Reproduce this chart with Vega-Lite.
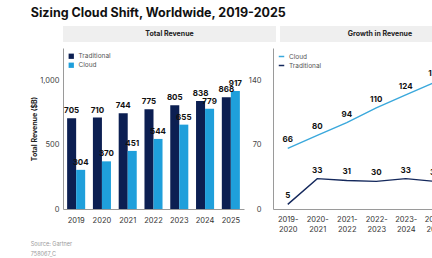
{
  "$schema": "https://vega.github.io/schema/vega-lite/v6.json",
  "padding": {"left": 30, "top": 6, "right": 0, "bottom": 0},
  "title": {
    "text": "Sizing Cloud Shift, Worldwide, 2019-2025",
    "anchor": "start",
    "fontSize": 12.5,
    "fontWeight": "bold",
    "color": "#111111",
    "offset": 7
  },
  "config": {
    "font": "Inter",
    "view": {"stroke": null},
    "axis": {
      "grid": false,
      "domainColor": "#9a9a9a",
      "ticks": false,
      "labelColor": "#444444",
      "labelFontSize": 7.5
    },
    "concat": {"spacing": 4}
  },
  "spacing": 6,
  "vconcat": [
    {
      "spacing": 4,
      "hconcat": [
        {
          "width": 213,
          "height": 16,
          "view": {"fill": "#efefef", "stroke": null},
          "data": {"values": [{"h": "Total Revenue"}]},
          "mark": {"type": "text", "fontWeight": "bold", "fontSize": 7, "color": "#222222"},
          "encoding": {"text": {"field": "h"}}
        },
        {
          "width": 200,
          "height": 16,
          "view": {"fill": "#efefef", "stroke": null},
          "data": {"values": [{"h": "Growth in Revenue"}]},
          "mark": {"type": "text", "fontWeight": "bold", "fontSize": 7, "color": "#222222"},
          "encoding": {"text": {"field": "h"}}
        }
      ]
    },
    {
      "title": {
        "text": ["Source: Gartner", "758067_C"],
        "orient": "bottom",
        "anchor": "start",
        "fontSize": 5.5,
        "fontWeight": "normal",
        "color": "#9a9a9a",
        "lineHeight": 10,
        "offset": 9
      },
      "spacing": 4,
      "resolve": {"scale": {"color": "independent", "x": "independent", "y": "independent"}, "legend": {"color": "independent"}},
      "hconcat": [
        {
          "width": 181,
          "height": 161,
          "data": {
            "values": [
              {"year": "2019", "series": "Traditional", "revenue": 705},
              {"year": "2019", "series": "Cloud", "revenue": 304},
              {"year": "2020", "series": "Traditional", "revenue": 710},
              {"year": "2020", "series": "Cloud", "revenue": 370},
              {"year": "2021", "series": "Traditional", "revenue": 744},
              {"year": "2021", "series": "Cloud", "revenue": 451},
              {"year": "2022", "series": "Traditional", "revenue": 775},
              {"year": "2022", "series": "Cloud", "revenue": 544},
              {"year": "2023", "series": "Traditional", "revenue": 805},
              {"year": "2023", "series": "Cloud", "revenue": 655},
              {"year": "2024", "series": "Traditional", "revenue": 838},
              {"year": "2024", "series": "Cloud", "revenue": 779},
              {"year": "2025", "series": "Traditional", "revenue": 868},
              {"year": "2025", "series": "Cloud", "revenue": 917}
            ]
          },
          "encoding": {
            "x": {
              "field": "year",
              "type": "ordinal",
              "scale": {"paddingInner": 0.3, "paddingOuter": 0.16},
              "axis": {"title": null, "labelAngle": 0, "labelPadding": 7, "labelColor": "#333333"}
            },
            "xOffset": {"field": "series", "type": "nominal", "sort": ["Traditional", "Cloud"], "scale": {"paddingInner": 0, "paddingOuter": 0}},
            "y": {
              "field": "revenue",
              "type": "quantitative",
              "scale": {"domain": [0, 1250]},
              "axis": {
                "values": [0, 500, 1000],
                "title": "Total Revenue ($B)",
                "titleFontSize": 7,
                "titleFontWeight": "bold",
                "titleColor": "#222222",
                "titlePadding": 2,
                "labelPadding": 4
              }
            }
          },
          "layer": [
            {
              "mark": {"type": "bar"},
              "encoding": {
                "color": {
                  "field": "series",
                  "type": "nominal",
                  "scale": {"domain": ["Traditional", "Cloud"], "range": ["#0c1f52", "#1f9fdb"]},
                  "legend": {
                    "title": null,
                    "orient": "top-left",
                    "offset": 5,
                    "symbolType": "square",
                    "symbolSize": 28,
                    "symbolStrokeWidth": 0,
                    "labelFontSize": 6.5,
                    "labelColor": "#555555",
                    "rowPadding": 2,
                    "padding": 0
                  }
                }
              }
            },
            {
              "mark": {"type": "text", "baseline": "bottom", "dy": -3, "fontWeight": "bold", "fontSize": 8, "color": "#111111"},
              "encoding": {"text": {"field": "revenue", "type": "quantitative"}}
            }
          ]
        },
        {
          "width": 177,
          "height": 161,
          "data": {
            "values": [
              {"period": "2019-2020", "type": "Cloud", "growth": 66},
              {"period": "2020-2021", "type": "Cloud", "growth": 80},
              {"period": "2021-2022", "type": "Cloud", "growth": 94},
              {"period": "2022-2023", "type": "Cloud", "growth": 110},
              {"period": "2023-2024", "type": "Cloud", "growth": 124},
              {"period": "2024-2025", "type": "Cloud", "growth": 138},
              {"period": "2019-2020", "type": "Traditional", "growth": 5},
              {"period": "2020-2021", "type": "Traditional", "growth": 33},
              {"period": "2021-2022", "type": "Traditional", "growth": 31},
              {"period": "2022-2023", "type": "Traditional", "growth": 30},
              {"period": "2023-2024", "type": "Traditional", "growth": 33},
              {"period": "2024-2025", "type": "Traditional", "growth": 30}
            ]
          },
          "encoding": {
            "x": {
              "field": "period",
              "type": "ordinal",
              "scale": {"type": "point", "padding": 0.5},
              "axis": {
                "title": null,
                "labelAngle": 0,
                "labelPadding": 6,
                "labelColor": "#333333",
                "labelExpr": "[slice(datum.label, 0, 5), slice(datum.label, 5)]",
                "labelLineHeight": 10
              }
            },
            "y": {
              "field": "growth",
              "type": "quantitative",
              "scale": {"domain": [0, 175]},
              "axis": {"values": [0, 70, 140], "title": null, "labelPadding": 12}
            }
          },
          "layer": [
            {
              "mark": {"type": "line", "strokeWidth": 1.4},
              "encoding": {
                "color": {
                  "field": "type",
                  "type": "nominal",
                  "scale": {"domain": ["Cloud", "Traditional"], "range": ["#3aa8dc", "#14285c"]},
                  "legend": {
                    "title": null,
                    "orient": "top-left",
                    "offset": 5,
                    "symbolType": "stroke",
                    "symbolSize": 30,
                    "symbolStrokeWidth": 1.5,
                    "labelFontSize": 6.5,
                    "labelColor": "#555555",
                    "rowPadding": 2,
                    "padding": 0
                  }
                }
              }
            },
            {
              "mark": {"type": "text", "baseline": "bottom", "dy": -4, "fontWeight": "bold", "fontSize": 8, "color": "#111111"},
              "encoding": {"text": {"field": "growth", "type": "quantitative"}}
            }
          ]
        }
      ]
    }
  ]
}
